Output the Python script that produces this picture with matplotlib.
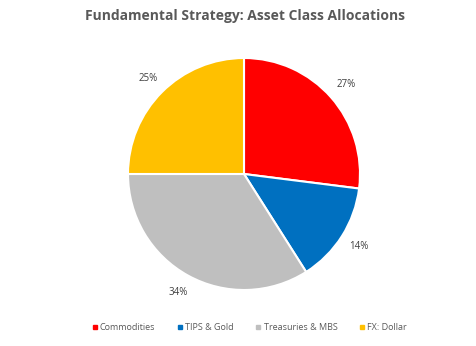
import matplotlib
matplotlib.use("Agg")
import matplotlib.pyplot as plt
from matplotlib.lines import Line2D

categories = ["Commodities", "TIPS & Gold", "Treasuries & MBS", "FX: Dollar"]
values = [27, 14, 34, 25]
colors = ["#FF0000", "#0070C0", "#BFBFBF", "#FFC000"]
title = "Fundamental Strategy: Asset Class Allocations"

W, H = 477, 346
fig = plt.figure(figsize=(W/100, H/100), dpi=100)
cx, cy, r = 244, 174, 116
ax = fig.add_axes([(cx - r)/W, (H - cy - r)/H, 2*r/W, 2*r/H])
wedges, texts, autotexts = ax.pie(values, colors=colors, startangle=90, counterclock=False,
       autopct=lambda p: f"{p:.0f}%", pctdistance=1.17,
       wedgeprops=dict(edgecolor="white", linewidth=1.5),
       textprops=dict(color="#404040", fontsize=7, family="Open Sans"))
ax.set_xlim(-1, 1)
ax.set_ylim(-1, 1)
ax.set_aspect("equal")
ax.axis("off")

fig.text(245/W, 1 - 16/H, title, ha="center", va="center", fontsize=10,
         fontweight="bold", color="#595959", family="Open Sans")

handles = [Line2D([0], [0], marker="s", linestyle="none", markersize=3.5,
                  markerfacecolor=c, markeredgecolor=c) for c in colors]
fig.legend(handles, categories, loc="center", bbox_to_anchor=(248/W, 1 - 328/H),
           ncol=4, frameon=False, handletextpad=0.0, columnspacing=2.1, handlelength=1.2,
           labelcolor="#595959", prop=dict(family="Open Sans", size=6.5))

fig.savefig("out.png", dpi=100, facecolor="white")
